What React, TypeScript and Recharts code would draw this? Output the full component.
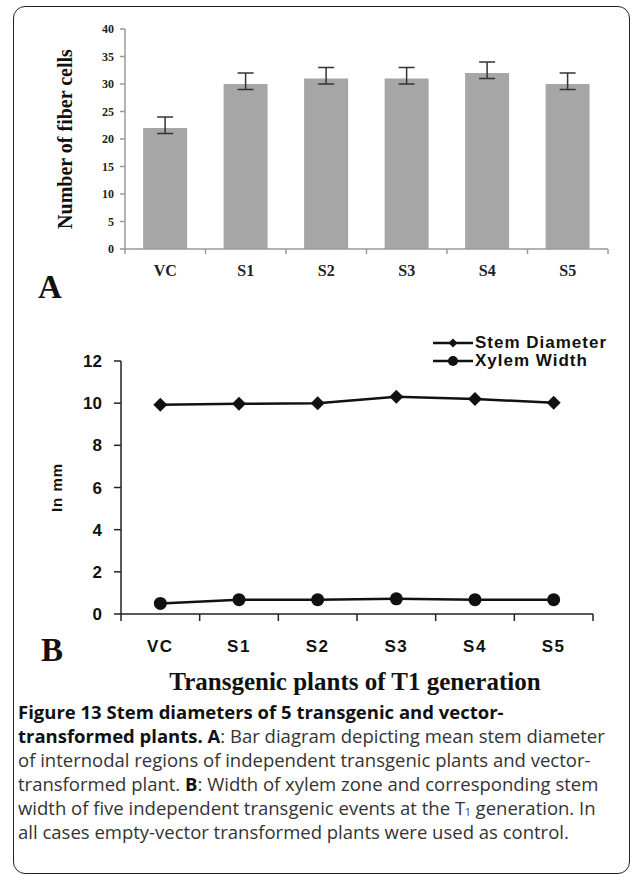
import { Bar, BarChart, ErrorBar, Line, LineChart, XAxis, YAxis } from "recharts"

const categories = ["VC", "S1", "S2", "S3", "S4", "S5"]
const fiberCells = [22, 30, 31, 31, 32, 30]
const fiberErrLow = [1, 1, 1, 1, 1, 1]
const fiberErrHigh = [2, 2, 2, 2, 2, 2]
const stemDiameter = [9.92, 9.97, 10.0, 10.31, 10.2, 10.02]
const xylemWidth = [0.5, 0.68, 0.68, 0.72, 0.68, 0.68]
const fiberTicks = [0, 5, 10, 15, 20, 25, 30, 35, 40]
const mmTicks = [0, 2, 4, 6, 8, 10, 12]
const lineSeries = [
  { key: "stem", name: "Stem Diameter" },
  { key: "xylem", name: "Xylem Width" },
]

const barData = categories.map((name, i) => ({
  name,
  cells: fiberCells[i],
  err: [fiberErrLow[i], fiberErrHigh[i]],
}))

const lineData = categories.map((name, i) => ({
  name,
  stem: stemDiameter[i],
  xylem: xylemWidth[i],
}))

const serif = "'Liberation Serif', 'Times New Roman', serif"
const sans = "'Liberation Sans', Arial, sans-serif"

const Diamond = (props: any) => {
  const { cx, cy, size = 7 } = props
  if (cx == null || cy == null) return null
  return <polygon points={`${cx},${cy - size} ${cx + size},${cy} ${cx},${cy + size} ${cx - size},${cy}`} fill="#111" />
}

const Circle = (props: any) => {
  const { cx, cy, size = 6.5 } = props
  if (cx == null || cy == null) return null
  return <circle cx={cx} cy={cy} r={size} fill="#111" />
}

// category label plus tick marks on the band edges
const EdgeTick = (props: any) => {
  const { x, y, payload, index, visibleTicksCount, gap, len, lineColor, font } = props
  const half = payload?.offset ?? 0
  const axisY = y - gap
  return (
    <g>
      <line x1={x - half} y1={axisY} x2={x - half} y2={axisY + len} stroke={lineColor} strokeWidth={1.5} />
      {index === visibleTicksCount - 1 && (
        <line x1={x + half} y1={axisY} x2={x + half} y2={axisY + len} stroke={lineColor} strokeWidth={1.5} />
      )}
      <text x={x} y={y} dy="0.71em" textAnchor="middle" {...font}>
        {payload.value}
      </text>
    </g>
  )
}

export default function App() {
  return (
    <div style={{ position: "absolute", left: 0, top: 0, width: 634, height: 878, background: "#fff" }}>
      <div
        style={{
          position: "absolute",
          left: 13,
          top: 6,
          width: 615,
          height: 866,
          border: "1.5px solid #222",
          borderRadius: 12,
        }}
      />

      <div style={{ position: "absolute", left: 0, top: 0 }}>
        <BarChart width={634} height={290} data={barData} margin={{ top: 29, right: 26, left: 45, bottom: 11 }} barCategoryGap="22.5%">
          <XAxis
            dataKey="name"
            height={30}
            tickLine={false}
            tickSize={0}
            tickMargin={16}
            axisLine={{ stroke: "#9a9a9a", strokeWidth: 1.5 }}
            tick={
              <EdgeTick
                gap={16}
                len={5}
                lineColor="#9a9a9a"
                font={{ fontFamily: serif, fontWeight: 700, fontSize: 16, fill: "#222" }}
              />
            }
          />
          <YAxis
            width={80}
            domain={[0, 40]}
            ticks={fiberTicks}
            interval={0}
            tickSize={5}
            tickMargin={6}
            axisLine={{ stroke: "#9a9a9a", strokeWidth: 1.5 }}
            tickLine={{ stroke: "#9a9a9a", strokeWidth: 1.5 }}
            tick={{ fontFamily: serif, fontWeight: 700, fontSize: 12, fill: "#222" }}
            label={{
              value: "Number of fiber cells",
              angle: -90,
              position: "insideLeft",
              offset: 20,
              style: { textAnchor: "middle", fontFamily: serif, fontWeight: 700, fontSize: 20, fill: "#111" },
            }}
          />
          <Bar dataKey="cells" fill="#a6a6a6" isAnimationActive={false}>
            <ErrorBar dataKey="err" width={8} stroke="#333" strokeWidth={1.5} />
          </Bar>
        </BarChart>
      </div>

      <div style={{ position: "absolute", left: 38, top: 269, fontFamily: serif, fontWeight: 700, fontSize: 33, color: "#111" }}>A</div>

      <div style={{ position: "absolute", left: 0, top: 330 }}>
        <LineChart width={634} height={340} data={lineData} margin={{ top: 31, right: 41, left: 41, bottom: 16 }}>
          <XAxis
            dataKey="name"
            scale="band"
            height={40}
            tickLine={false}
            tickSize={0}
            tickMargin={26}
            axisLine={{ stroke: "#222", strokeWidth: 1.5 }}
            tick={
              <EdgeTick
                gap={26}
                len={7}
                lineColor="#222"
                font={{ fontFamily: sans, fontWeight: 700, fontSize: 17, letterSpacing: 1.5, fill: "#111" }}
              />
            }
          />
          <YAxis
            width={80}
            domain={[0, 12]}
            ticks={mmTicks}
            interval={0}
            tickSize={7}
            tickMargin={12}
            axisLine={{ stroke: "#222", strokeWidth: 1.5 }}
            tickLine={{ stroke: "#222", strokeWidth: 1.5 }}
            tick={{ fontFamily: sans, fontWeight: 700, fontSize: 17, fill: "#111" }}
            label={{
              value: "In mm",
              angle: -90,
              position: "insideLeft",
              offset: 16,
              style: { textAnchor: "middle", fontFamily: sans, fontWeight: 700, fontSize: 15, letterSpacing: 1, fill: "#111" },
            }}
          />
          <Line
            type="linear"
            dataKey="stem"
            name="Stem Diameter"
            stroke="#111"
            strokeWidth={2.5}
            dot={<Diamond />}
            isAnimationActive={false}
          />
          <Line
            type="linear"
            dataKey="xylem"
            name="Xylem Width"
            stroke="#111"
            strokeWidth={2.5}
            dot={<Circle />}
            isAnimationActive={false}
          />
        </LineChart>
      </div>

      <div
        style={{
          position: "absolute",
          left: 433,
          top: 334,
          fontFamily: sans,
          fontWeight: 700,
          fontSize: 17,
          letterSpacing: 1,
          color: "#111",
        }}
      >
        {lineSeries.map((s) => (
          <div key={s.key} style={{ display: "flex", alignItems: "center", height: 18 }}>
            <svg width={42} height={14}>
              <line x1={0} y1={7} x2={40} y2={7} stroke="#111" strokeWidth={2.5} />
              {s.key === "stem" ? <Diamond cx={20} cy={7} size={4.5} /> : <Circle cx={20} cy={7} size={5} />}
            </svg>
            <span style={{ lineHeight: "18px" }}>{s.name}</span>
          </div>
        ))}
      </div>

      <div style={{ position: "absolute", left: 41, top: 632, fontFamily: serif, fontWeight: 700, fontSize: 33, color: "#111" }}>B</div>

      <div
        style={{
          position: "absolute",
          left: 0,
          width: 710,
          top: 668,
          textAlign: "center",
          fontFamily: serif,
          fontWeight: 700,
          fontSize: 25,
          color: "#111",
        }}
      >
        Transgenic plants of T1 generation
      </div>

      <div
        style={{
          position: "absolute",
          left: 18,
          top: 700,
          fontFamily: "'Open Sans', sans-serif",
          fontSize: 18.5,
          lineHeight: "24px",
          color: "#333",
          whiteSpace: "nowrap",
        }}
      >
        <div>
          <b style={{ color: "#111" }}>Figure 13 Stem diameters of 5 transgenic and vector-</b>
        </div>
        <div>
          <b style={{ color: "#111" }}>transformed plants. A</b>: Bar diagram depicting mean stem diameter
        </div>
        <div>of internodal regions of independent transgenic plants and vector-</div>
        <div>
          transformed plant. <b style={{ color: "#111" }}>B</b>: Width of xylem zone and corresponding stem
        </div>
        <div>
          width of five independent transgenic events at the T
          <span style={{ fontSize: 10, position: "relative", top: 1, lineHeight: "10px" }}>1</span> generation. In
        </div>
        <div>all cases empty-vector transformed plants were used as control.</div>
      </div>
    </div>
  )
}
